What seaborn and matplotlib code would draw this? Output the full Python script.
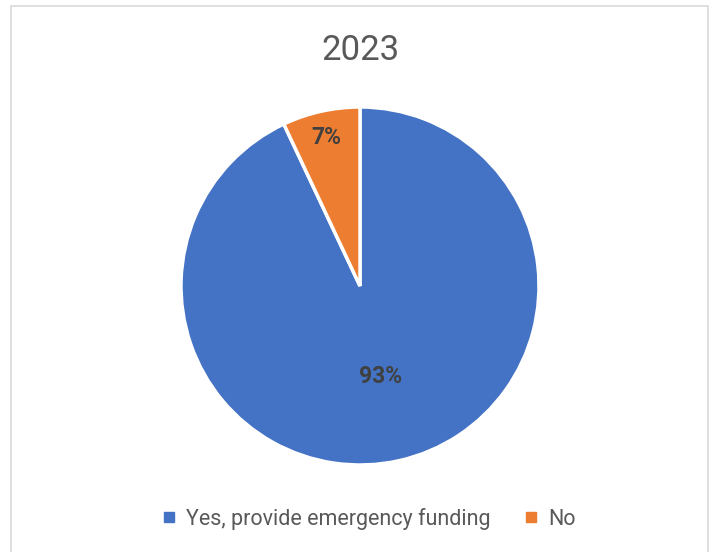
import numpy as np
import matplotlib
matplotlib.use("Agg")
import matplotlib.pyplot as plt
from matplotlib.patches import Rectangle
from matplotlib.lines import Line2D
import seaborn as sns

title = "2023"
categories = ["Yes, provide emergency funding", "No"]
values = [93, 7]
colors = ["#4472C4", "#ED7D31"]

sns.set_theme(style="white")
plt.rcParams['font.family'] = ['Roboto', 'DejaVu Sans']

W, H = 712, 552
fig = plt.figure(figsize=(W / 100, H / 100), dpi=100)

# border
fig.patches.append(Rectangle((11 / W, -0.05), (708 - 11) / W, (H - 6) / H + 0.05,
                             transform=fig.transFigure, fill=False,
                             edgecolor="#D9D9D9", linewidth=1.2))

cx, cy, r = 360, 552 - 286, 179
ax = fig.add_axes([(cx - r) / W, (cy - r) / H, 2 * r / W, 2 * r / H])
wedges, texts, autotexts = ax.pie(values, colors=colors, startangle=90, counterclock=False,
                                  radius=1, autopct=lambda p: f"{p:.0f}%", pctdistance=0.55,
                                  wedgeprops=dict(edgecolor="white", linewidth=2.5),
                                  textprops=dict(color="#404040", fontsize=16.5, fontweight="bold"))
ax.set_xlim(-1, 1)
ax.set_ylim(-1, 1)
ax.set_aspect("equal")
ax.axis("off")

dists = [0.52, 0.85]
for w, t, d in zip(wedges, autotexts, dists):
    ang = np.deg2rad((w.theta1 + w.theta2) / 2)
    t.set_position((d * np.cos(ang), d * np.sin(ang)))

fig.text(cx / W, 1 - 50 / H, title, ha="center", va="center", fontsize=25, color="#595959")

handles = [Line2D([], [], marker="s", linestyle="none", markersize=7, color=c) for c in colors]
fig.legend(handles, categories, loc="center", bbox_to_anchor=(367 / W, 1 - 519 / H), ncol=2,
           frameon=False, fontsize=15.5, labelcolor="#595959", handletextpad=0.3,
           columnspacing=1.35, handlelength=1.0)

fig.savefig("out.png", dpi=100)
